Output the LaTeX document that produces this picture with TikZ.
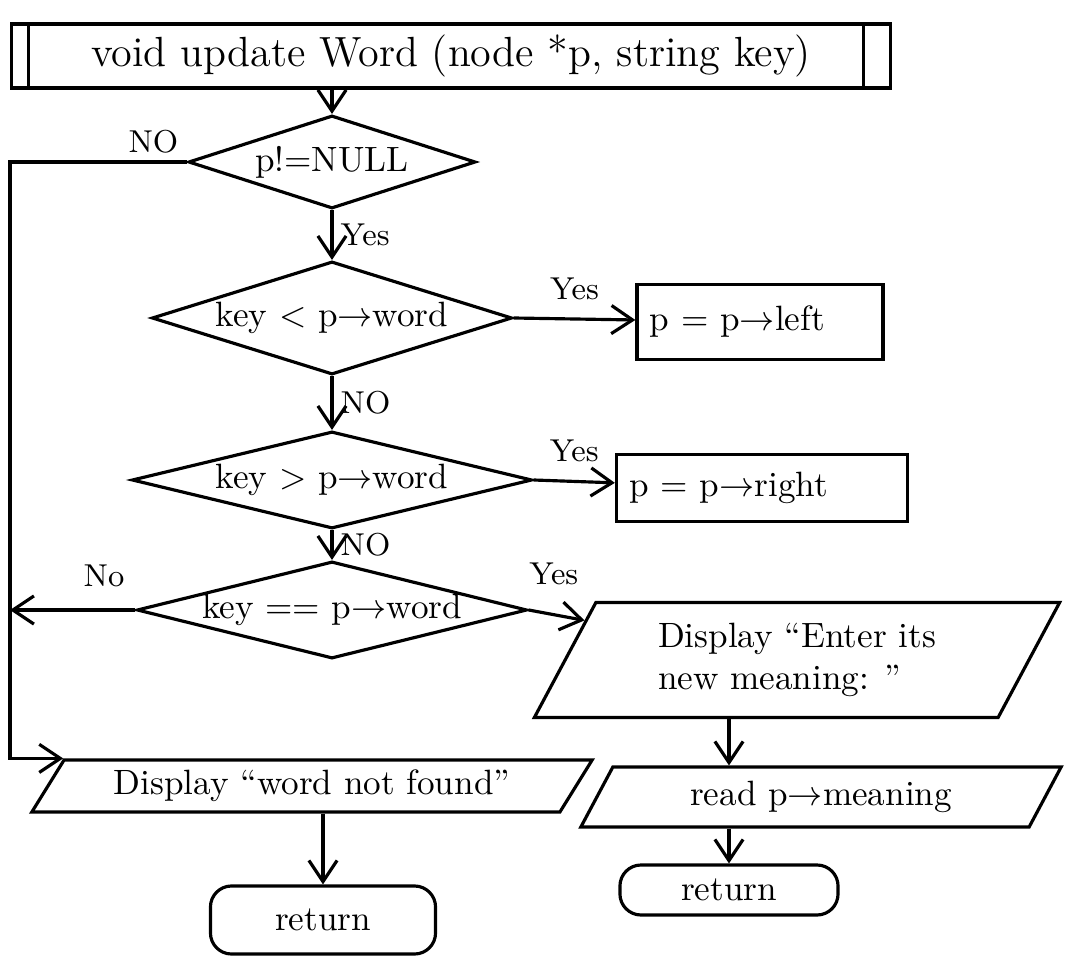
\documentclass[tikz,border=0pt]{standalone}
\usetikzlibrary{shapes.geometric,arrows.meta}
\begin{document}
\begin{tikzpicture}[x=0.01cm,y=-0.01cm,line width=0.9pt,
  decision/.style={diamond,draw,inner sep=0pt},
  process/.style={rectangle,draw,inner sep=2pt},
  io/.style={trapezium,draw,trapezium left angle=55,trapezium right angle=125,
    trapezium stretches body,inner sep=2pt},
  term/.style={rectangle,draw,rounded corners=6pt},
  flow/.style={-{Straight Barb[length=6pt,width=8pt]}},
  lbl/.style={font=\small,inner sep=2pt}]
 \useasboundingbox (0,0) rectangle (1066,973);
 % header
 \node[process,minimum width=8.78cm,minimum height=0.64cm,font=\large] (title) at (451,56) {void update Word (node *p, string key)};
 \draw ([xshift=0.18cm]title.north west) -- ([xshift=0.18cm]title.south west);
 \draw ([xshift=-0.28cm]title.north east) -- ([xshift=-0.28cm]title.south east);
 % tests
 \node[decision,minimum width=2.87cm,minimum height=0.93cm,aspect=3.1] (notnull) at (332,162) {p!=NULL};
 \node[decision,minimum width=3.6cm,minimum height=1.13cm,aspect=3.2] (less) at (332,318) {key $<$ p$\to$word};
 \node[decision,minimum width=4.0cm,minimum height=0.97cm,aspect=4.1] (greater) at (332,480) {key $>$ p$\to$word};
 \node[decision,minimum width=3.9cm,minimum height=0.97cm,aspect=4.0] (equal) at (332,610) {key == p$\to$word};
 % actions
 \node[process,minimum width=2.46cm,minimum height=0.75cm,text width=2.2cm] (goleft) at (760,322) {p = p$\to$left};
 \node[process,minimum width=2.91cm,minimum height=0.67cm,text width=2.65cm] (goright) at (762,488) {p = p$\to$right};
 \node[io,minimum width=5.25cm,minimum height=1.15cm,align=left] (askmeaning) at (797,660) {Display ``Enter its\\new meaning: ''};
 \node[io,minimum width=4.8cm,minimum height=0.6cm] (readmeaning) at (821,797) {read p$\to$meaning};
 \node[io,minimum width=5.6cm,minimum height=0.52cm] (notfound) at (312,786) {Display ``word not found''};
 \node[term,minimum width=2.18cm,minimum height=0.5cm] (done) at (729,890) {return};
 \node[term,minimum width=2.25cm,minimum height=0.68cm] (fail) at (323,920) {return};
 \coordinate (lane) at (10,0);
 % connectors
 \draw[flow] (notnull.north |- title.south) -- (notnull.north);
 \draw[flow] (notnull.west) node[lbl,above left] {NO} -- (notnull.west -| lane) |- (notfound.top left corner);
 \draw[flow] (notnull.south) -- node[lbl,right] {Yes} (less.north);
 \draw[flow] (less.east) -- node[lbl,above,pos=0.5,yshift=3pt] {Yes} (goleft);
 \draw[flow] (less.south) -- node[lbl,right] {NO} (greater.north);
 \draw[flow] (greater.east) -- node[lbl,above,pos=0.5,yshift=3pt] {Yes} (goright);
 \draw[flow] (greater.south) -- node[lbl,right] {NO} (equal.north);
 \draw[flow] (equal.west) -- node[lbl,above,pos=0.25,yshift=4pt] {No} (equal.west -| lane);
 \draw[flow] (equal.east) -- node[lbl,above,pos=0.45,yshift=6pt] {Yes} (askmeaning);
 \draw[flow] (done.north |- askmeaning.south) -- (done.north |- readmeaning.north);
 \draw[flow] (done.north |- readmeaning.south) -- (done.north);
 \draw[flow] (fail.north |- notfound.south) -- (fail.north);
\end{tikzpicture}
\end{document}
